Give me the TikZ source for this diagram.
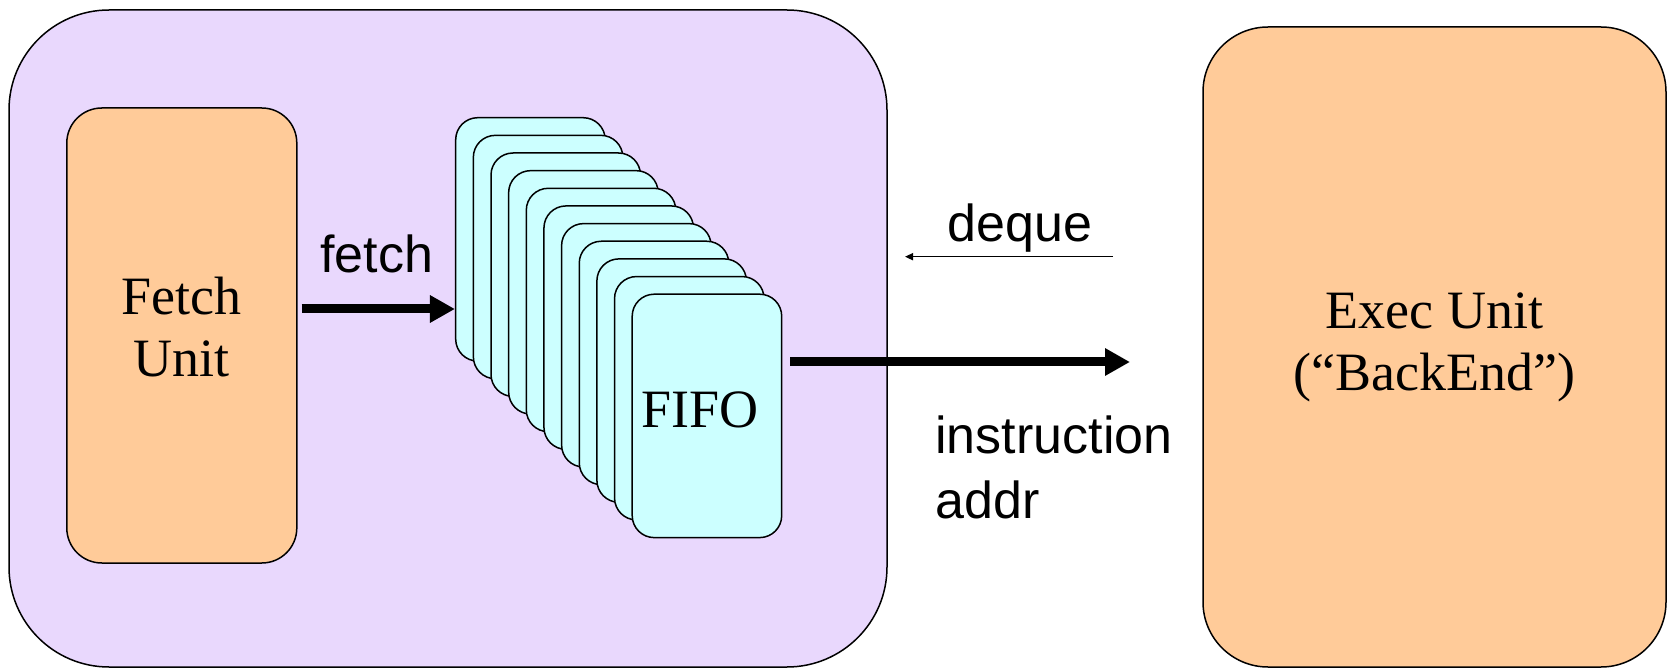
\documentclass[tikz,border=0pt]{standalone}
\usepackage{fontspec}
\newfontfamily\arialfont{Liberation Sans}
\newfontfamily\timesfont{Liberation Serif}
\usetikzlibrary{arrows.meta,calc}
\definecolor{frontpurple}{HTML}{E9D8FD}
\definecolor{unitorange}{HTML}{FFCB99}
\definecolor{fifocyan}{HTML}{CCFFFF}
\tikzset{
  box/.style={draw=black, line width=0.75pt, rounded corners=#1, inner sep=0pt},
  serifl/.style={font=\timesfont\fontsize{27pt}{31pt}\selectfont, align=center},
  sanslbl/.style={font=\arialfont\fontsize{26pt}{30pt}\selectfont, inner sep=0pt},
  bigarrow/.style={line width=4.5pt, -{Triangle[length=12.5pt,width=13pt]}},
  thinarrow/.style={line width=0.75pt, -{Triangle[length=4pt,width=3.5pt]}}
}
\begin{document}
\begin{tikzpicture}[x=0.5pt,y=-0.5pt]
\useasboundingbox (0,0) rectangle (1667,668);
\node[box=50pt, fill=frontpurple, minimum width=439pt, minimum height=328.5pt] (frontend) at (448,338.5) {};
\node[box=17.5pt, fill=unitorange, minimum width=115pt, minimum height=227.5pt] (fetch) at (181.8,335.5) {};
\node[serifl, inner sep=0pt] (fetchtxt) at ([shift={(0,-8)}]fetch.center) {Fetch\\Unit};
\node[box=32.5pt, fill=unitorange, minimum width=231.5pt, minimum height=320pt, serifl] (exec) at (1434.5,347) {Exec Unit\\(“BackEnd”)};
\foreach \i in {0,...,10}
  \node[box=11pt, fill=fifocyan, minimum width=74.75pt, minimum height=121.7pt] (card\i) at (530.45+17.65*\i, 239.4+17.65*\i) {};
\node[serifl, inner sep=0pt] (fifolbl) at ([shift={(-7,-6)}]card10.center) {FIFO};
% fetch arrow
\coordinate (fa) at (301.7,309);
\draw[bigarrow] (fa) -- (fa -| card0.west);
\node[sanslbl, anchor=base] (fetchlbl) at (376.7,273) {fetch};
% output arrow
\coordinate (oa) at (1130,362);
\draw[bigarrow, shorten <=4pt] (card10.east |- oa) -- (oa);
% deque arrow
\coordinate (dqs) at (1113,256.7);
\coordinate (dqe) at (905,256.7);
\draw[thinarrow] (dqs) -- (dqe);
\node[sanslbl, anchor=base] (dequelbl) at (1020,241.7) {deque};
\node[sanslbl, anchor=base west] (instrlbl) at (935,454) {instruction};
\node[sanslbl, anchor=base west] (addrlbl) at (935,518) {addr};
\end{tikzpicture}
\end{document}
